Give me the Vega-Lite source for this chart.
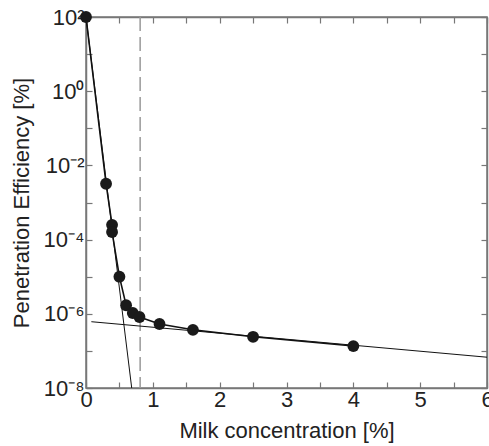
{
  "$schema": "https://vega.github.io/schema/vega-lite/v6.json",
  "width": 401,
  "height": 371,
  "autosize": {"type": "none"},
  "padding": {"left": 86, "top": 17, "right": 2, "bottom": 58},
  "background": "white",
  "config": {
    "view": {"stroke": "#777777", "strokeWidth": 1.5},
    "font": "Liberation Sans",
    "axis": {
      "domainColor": "#777777",
      "domainWidth": 1.5,
      "tickColor": "#777777",
      "tickWidth": 1.2,
      "tickSize": -6,
      "grid": false,
      "labelFont": "Liberation Sans",
      "labelFontSize": 22,
      "labelColor": "#222222",
      "titleFont": "Liberation Sans",
      "titleFontSize": 22,
      "titleFontWeight": "normal",
      "titleColor": "#222222"
    }
  },
  "datasets": {
    "points": [
      {"x": 0.0, "y": 100},
      {"x": 0.3, "y": 0.0032},
      {"x": 0.39, "y": 0.00025},
      {"x": 0.39, "y": 0.00016},
      {"x": 0.5, "y": 0.00001},
      {"x": 0.6, "y": 0.0000017},
      {"x": 0.7, "y": 0.00000105},
      {"x": 0.8, "y": 0.00000082},
      {"x": 1.1, "y": 0.00000053},
      {"x": 1.6, "y": 0.00000037},
      {"x": 2.5, "y": 0.00000024},
      {"x": 4.0, "y": 0.000000135}
    ],
    "fits": [
      {"series": "steep", "x": 0.0, "y": 100},
      {"series": "steep", "x": 0.684, "y": 0.00000001},
      {"series": "flat", "x": 0.08, "y": 0.000000612},
      {"series": "flat", "x": 6.0, "y": 0.0000000676}
    ],
    "vline": [{"x": 0.81}]
  },
  "resolve": {"axis": {"x": "independent", "y": "independent"}},
  "layer": [
    {
      "data": {"name": "vline"},
      "mark": {"type": "rule", "color": "#999999", "strokeWidth": 1.5, "strokeDash": [14, 6]},
      "encoding": {
        "x": {
          "field": "x", "type": "quantitative",
          "scale": {"domain": [0, 6], "nice": false},
          "axis": {
            "orient": "bottom",
            "values": [0, 0.5, 1, 1.5, 2, 2.5, 3, 3.5, 4, 4.5, 5, 5.5, 6],
            "labelExpr": "datum.value % 1 == 0 ? format(datum.value, 'd') : ''",
            "labelPadding": 7,
            "labelFlush": false,
            "labelOverlap": false,
            "title": "Milk concentration [%]",
            "titlePadding": 10
          }
        }
      }
    },
    {
      "data": {"name": "fits"},
      "mark": {"type": "line", "color": "#111111", "strokeWidth": 1},
      "encoding": {
        "x": {
          "field": "x", "type": "quantitative",
          "scale": {"domain": [0, 6], "nice": false},
          "axis": {
            "orient": "top",
            "values": [0, 0.5, 1, 1.5, 2, 2.5, 3, 3.5, 4, 4.5, 5, 5.5, 6],
            "labels": false,
            "title": null
          }
        },
        "y": {
          "field": "y", "type": "quantitative",
          "scale": {"type": "log", "domain": [1e-8, 100], "nice": false},
          "axis": {
            "orient": "right",
            "values": [100, 10, 1, 0.1, 0.01, 0.001, 0.0001, 0.00001, 0.000001, 0.0000001, 0.00000001],
            "labels": false,
            "title": null
          }
        },
        "detail": {"field": "series"}
      }
    },
    {
      "data": {"name": "points"},
      "mark": {"type": "line", "color": "#111111", "strokeWidth": 1.6},
      "encoding": {
        "x": {"field": "x", "type": "quantitative", "scale": {"domain": [0, 6], "nice": false}, "axis": null},
        "y": {
          "field": "y", "type": "quantitative",
          "scale": {"type": "log", "domain": [1e-8, 100], "nice": false},
          "axis": {
            "orient": "left",
            "values": [100, 10, 1, 0.1, 0.01, 0.001, 0.0001, 0.00001, 0.000001, 0.0000001, 0.00000001],
            "labelExpr": "round(log(datum.value)/LN10) == 2 ? '10²' : round(log(datum.value)/LN10) == 0 ? '10⁰' : round(log(datum.value)/LN10) == -2 ? '10⁻²' : round(log(datum.value)/LN10) == -4 ? '10⁻⁴' : round(log(datum.value)/LN10) == -6 ? '10⁻⁶' : round(log(datum.value)/LN10) == -8 ? '10⁻⁸' : ''",
            "labelPadding": 8,
            "labelFlush": false,
            "labelOverlap": false,
            "title": "Penetration Efficiency [%]",
            "titlePadding": 10
          }
        }
      }
    },
    {
      "data": {"name": "points"},
      "mark": {"type": "circle", "size": 140, "color": "#1a1a1a", "opacity": 1},
      "encoding": {
        "x": {"field": "x", "type": "quantitative", "scale": {"domain": [0, 6], "nice": false}, "axis": null},
        "y": {"field": "y", "type": "quantitative", "scale": {"type": "log", "domain": [1e-8, 100], "nice": false}, "axis": null}
      }
    }
  ]
}
